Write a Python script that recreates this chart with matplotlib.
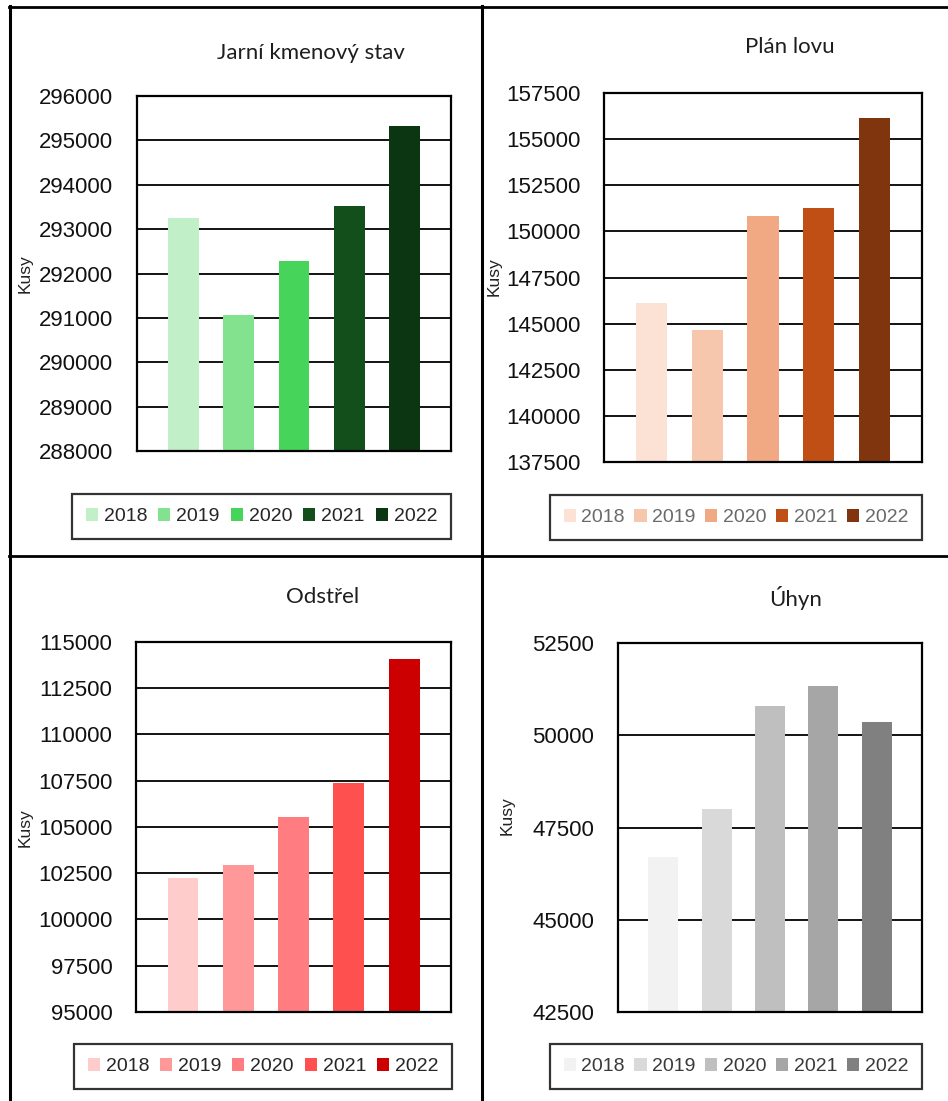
import matplotlib
matplotlib.use("Agg")
import matplotlib.pyplot as plt
from matplotlib.patches import Patch
from matplotlib.lines import Line2D

W, H = 948, 1101

years = ["2018", "2019", "2020", "2021", "2022"]

jarni_stav = [293255, 291056, 292286, 293532, 295325]
plan_lovu = [146094, 144676, 150841, 151277, 156140]
odstrel = [102229, 102946, 105559, 107404, 114080]
uhyn = [46701, 48000, 50797, 51333, 50362]

titles = ["Jarní kmenový stav", "Plán lovu", "Odstřel", "Úhyn"]

green = ["#C1F0C8", "#83E28E", "#47D45A", "#134F1B", "#0C3512"]
orange = ["#FBE2D5", "#F6C6AD", "#F1A983", "#C04F15", "#80350E"]
red = ["#FFCCCC", "#FF9999", "#FF7C80", "#FF5050", "#CC0000"]
gray = ["#F2F2F2", "#D9D9D9", "#BFBFBF", "#A6A6A6", "#808080"]

y_ranges = [(288000, 296000, 1000), (137500, 157500, 2500),
            (95000, 115000, 2500), (42500, 52500, 2500)]

TICK_FONT = "Liberation Sans"
TITLE_FONT = "Lato"


def fig_box(x0, y0, x1, y1):
    """Pixel box (top-left origin) to figure fraction rect."""
    return [x0 / W, 1 - y1 / H, (x1 - x0) / W, (y1 - y0) / H]


fig = plt.figure(figsize=(W / 100, H / 100), dpi=100)

panels = [
    dict(values=jarni_stav, colors=green, ax=(137, 96, 451, 451),
         title=(311, 53), ylab=(33, 274), legend=(72, 493, 451, 540),
         legend_color="#262626"),
    dict(values=plan_lovu, colors=orange, ax=(604, 93, 922, 462),
         title=(790, 47), ylab=(502, 277), legend=(550, 495, 922, 540),
         legend_color="#6A6A6A"),
    dict(values=odstrel, colors=red, ax=(136, 642, 451, 1012),
         title=(323, 597), ylab=(33, 828), legend=(74, 1044, 452, 1089),
         legend_color="#262626"),
    dict(values=uhyn, colors=gray, ax=(618, 643, 922, 1012),
         title=(796, 598), ylab=(515, 816), legend=(550, 1044, 922, 1089),
         legend_color="#3A3A3A"),
]

for p, title, (ymin, ymax, step) in zip(panels, titles, y_ranges):
    x0, y0, x1, y1 = p["ax"]
    ax = fig.add_axes(fig_box(x0, y0, x1, y1))
    xs = list(range(len(years)))
    ax.bar(xs, p["values"], width=0.56, color=p["colors"], zorder=2)
    ax.set_xlim(-0.85, 4.85)
    ax.set_ylim(ymin, ymax)
    ticks = list(range(ymin, ymax + 1, step))
    ax.set_yticks(ticks)
    ax.set_yticklabels([str(t) for t in ticks], fontfamily=TICK_FONT,
                       fontsize=16, color="#111111")
    ax.tick_params(axis="y", length=0, pad=17)
    ax.set_xticks([])
    ax.yaxis.grid(True, color="black", linewidth=1.3)
    ax.set_axisbelow(True)
    for s in ax.spines.values():
        s.set_color("black")
        s.set_linewidth(1.6)

    # rotated unit label
    lx, ly = p["ylab"]
    ax.set_ylabel("Kusy", fontfamily=TICK_FONT, fontsize=12.5, color="#222222")
    ax.yaxis.set_label_coords((lx - x0) / (x1 - x0), (y1 - ly) / (y1 - y0))

    tx, ty = p["title"]
    fig.text(tx / W, 1 - ty / H, title, ha="center", va="center",
             fontfamily=TITLE_FONT, fontsize=16, color="#1E1E1E")

    lx0, ly0, lx1, ly1 = p["legend"]
    handles = [Patch(facecolor=c, edgecolor="none") for c in p["colors"]]
    leg = ax.legend(handles, years, ncol=5, mode="expand",
                    bbox_to_anchor=fig_box(lx0, ly0, lx1, ly1),
                    bbox_transform=fig.transFigure, loc="center",
                    prop={"family": TICK_FONT, "size": 14},
                    handlelength=0.62, handleheight=0.62, handletextpad=0.3,
                    columnspacing=0.6, borderpad=0.7, borderaxespad=0,
                    fancybox=False, frameon=True)
    frame = leg.get_frame()
    frame.set_edgecolor("black")
    frame.set_linewidth(1.6)
    for t in leg.get_texts():
        t.set_color(p["legend_color"])

# cell borders of the 2x2 layout
def hline(y, xa, xb, lw):
    fig.add_artist(Line2D([xa / W, xb / W], [1 - y / H, 1 - y / H],
                          color="black", linewidth=lw, transform=fig.transFigure))


def vline(x, ya, yb, lw):
    fig.add_artist(Line2D([x / W, x / W], [1 - ya / H, 1 - yb / H],
                          color="black", linewidth=lw, transform=fig.transFigure))


hline(6.5, 9, W, 2.0)
vline(10, 6, H, 2.2)
vline(481.5, 6, H, 2.2)
hline(556, 9, W, 2.0)

fig.savefig("out.png", dpi=100)
